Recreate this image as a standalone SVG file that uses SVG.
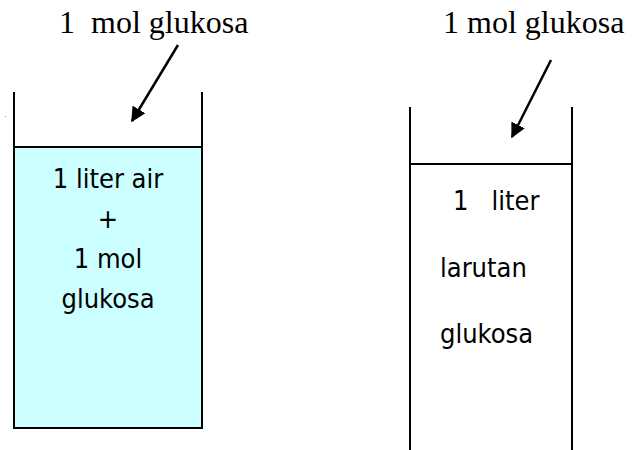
<svg xmlns="http://www.w3.org/2000/svg" width="632" height="450" viewBox="0 0 632 450">
<style>
.wall{stroke:#000;stroke-width:2;fill:none}
.serif{font-family:"Liberation Serif","DejaVu Serif",serif;font-size:32px;fill:#000}
.sans{font-family:"DejaVu Sans Condensed","Liberation Sans",sans-serif;font-size:27px;fill:#000}
.arrow{stroke:#000;stroke-width:2.5;fill:none}
</style>
<defs>
<marker id="ah" viewBox="0 0 10 10" refX="9" refY="5" markerWidth="6" markerHeight="6" markerUnits="strokeWidth" orient="auto">
<path d="M0,0 L10,5 L0,10 z" fill="#000"/>
</marker>
</defs>
<rect width="632" height="450" fill="#fff"/>
<rect x="5" y="116" width="1" height="1" fill="#888"/>
<g id="beaker-left">
<rect x="14" y="147" width="188" height="281" fill="#CCFFFF" stroke="#000" stroke-width="2"/>
<path class="wall" d="M14,92 V147 M202,92 V147"/>
<text class="sans" text-anchor="middle" x="108" y="188">1 liter air</text>
<text class="sans" text-anchor="middle" x="108" y="228">+</text>
<text class="sans" text-anchor="middle" x="108" y="268">1 mol</text>
<text class="sans" text-anchor="middle" x="108" y="308">glukosa</text>
</g>
<g id="beaker-right">
<path class="wall" d="M410,107 V450 M572,107 V450 M410,164 H572"/>
<text class="sans" x="453" y="210" xml:space="preserve">1   liter</text>
<text class="sans" x="440" y="277">larutan</text>
<text class="sans" x="440" y="343">glukosa</text>
</g>
<g id="label-left">
<text class="serif" x="59" y="33" xml:space="preserve">1  mol glukosa</text>
</g>
<g id="label-right">
<text class="serif" x="443" y="33">1 mol glukosa</text>
</g>
<g id="connectors">
<line class="arrow" x1="178" y1="45" x2="132" y2="121" marker-end="url(#ah)"/>
<line class="arrow" x1="551" y1="60" x2="512" y2="137" marker-end="url(#ah)"/>
</g>
</svg>
